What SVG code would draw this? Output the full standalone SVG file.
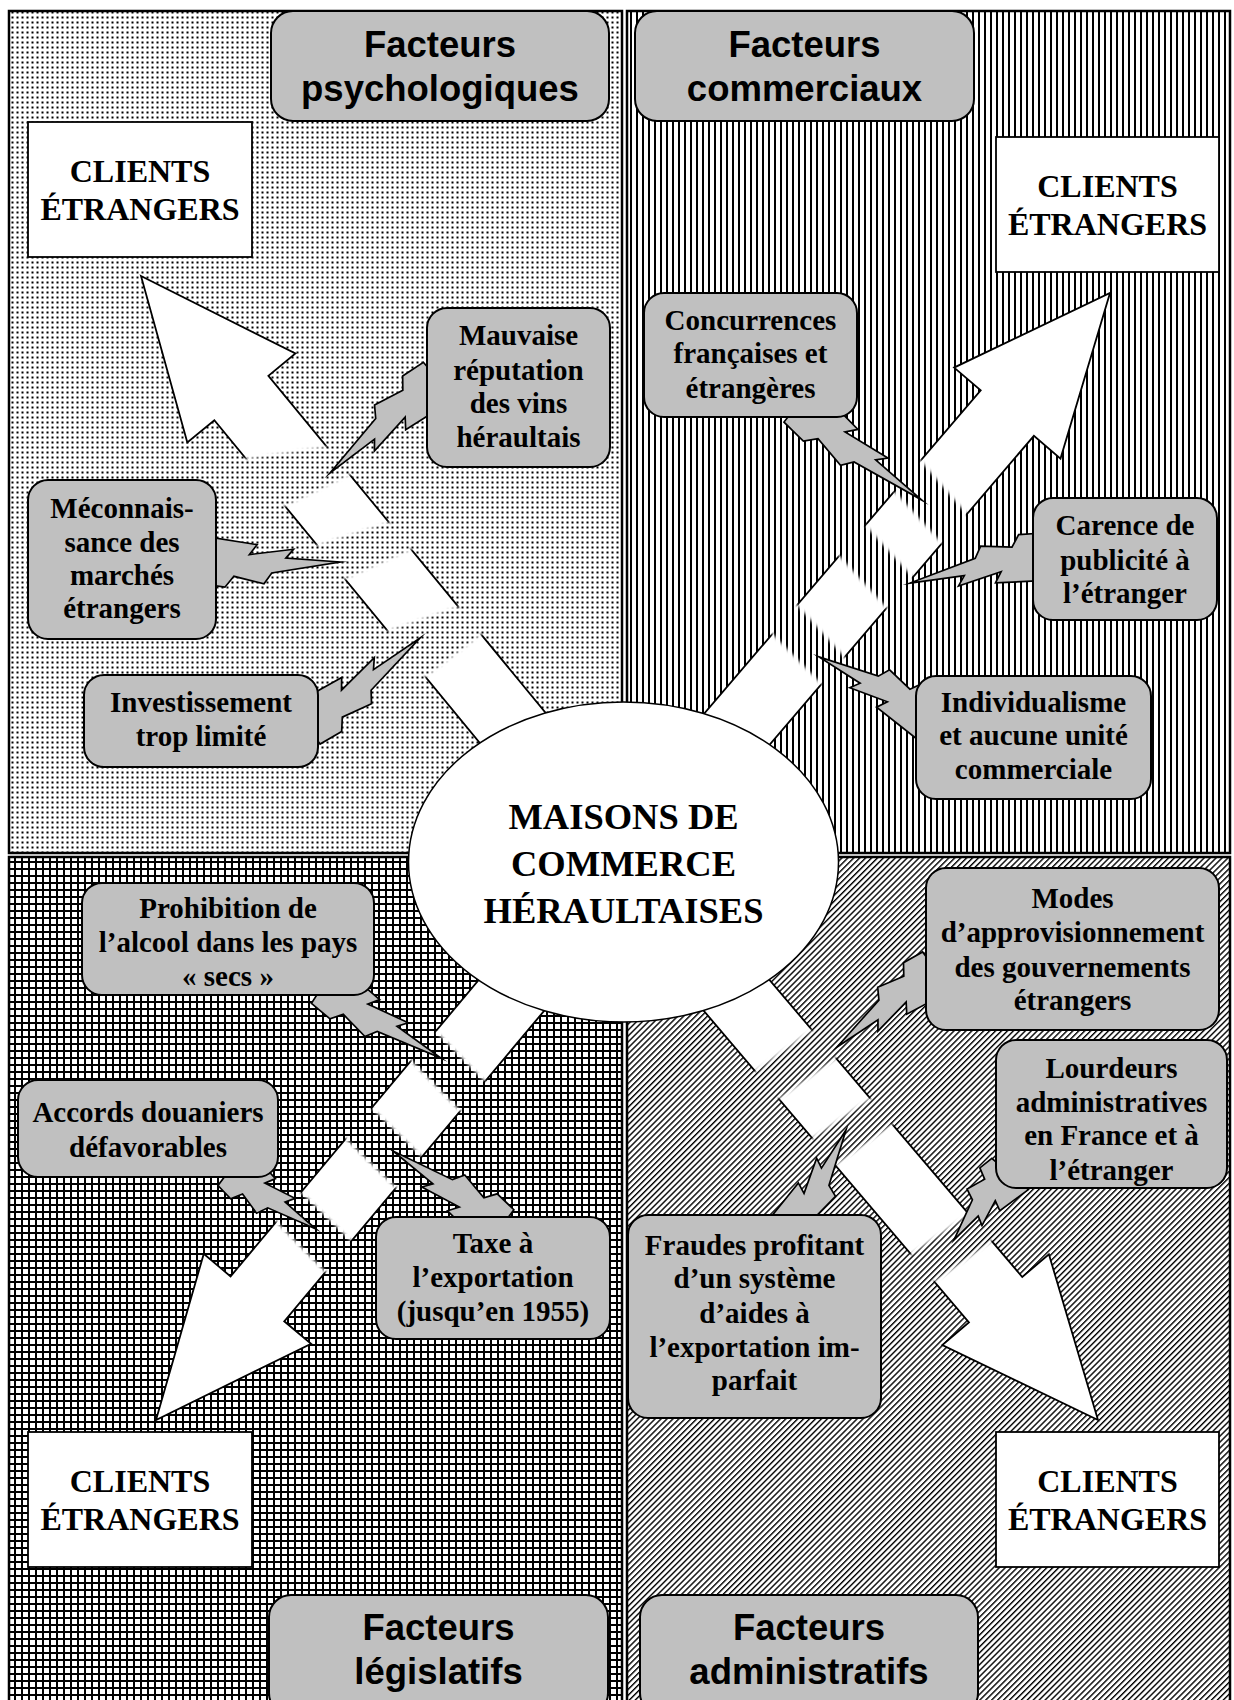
<svg xmlns="http://www.w3.org/2000/svg" xmlns:xlink="http://www.w3.org/1999/xlink" width="1234" height="1700" viewBox="0 0 1234 1700">
<style>
.quad{stroke:#000;stroke-width:2.5}
.arrow{fill:#fff;stroke:#000;stroke-width:1.8;stroke-linejoin:miter}
.bolt{fill:#c0c0c0;stroke:#000;stroke-width:1.7;vector-effect:non-scaling-stroke;stroke-linejoin:miter;stroke-miterlimit:10}
.box{fill:#c0c0c0;stroke:#000;stroke-width:2}
.client{fill:#fff;stroke:#000;stroke-width:1.8}
.center{fill:#fff;stroke:#000;stroke-width:1.5}
.title{font-family:"Liberation Sans",Arial,sans-serif;font-weight:bold;font-size:36.5px;text-anchor:middle;fill:#000}
.ft{font-family:"Liberation Serif","Times New Roman",serif;font-weight:bold;font-size:29px;text-anchor:middle;fill:#000}
.ct{font-family:"Liberation Serif","Times New Roman",serif;font-weight:bold;font-size:32px;text-anchor:middle;fill:#000}
.mt{font-family:"Liberation Serif","Times New Roman",serif;font-weight:bold;font-size:36.5px;text-anchor:middle;fill:#000}
</style>
<defs>
<pattern id="pDots" patternUnits="userSpaceOnUse" width="5" height="5"><rect width="5" height="5" fill="#fff"/><rect x="1.5" y="1.5" width="2" height="2" fill="#000"/></pattern>
<pattern id="pVert" patternUnits="userSpaceOnUse" width="6" height="6"><rect width="6" height="6" fill="#fff"/><rect width="2" height="6" fill="#000"/></pattern>
<pattern id="pGrid" patternUnits="userSpaceOnUse" width="7" height="7"><rect width="7" height="7" fill="#fff"/><rect width="7" height="2" fill="#000"/><rect width="2" height="7" fill="#000"/></pattern>
<pattern id="pDiag" patternUnits="userSpaceOnUse" width="4.2" height="10" patternTransform="rotate(45)"><rect width="4.2" height="10" fill="#fff"/><rect width="1.4" height="10" fill="#000"/></pattern>
<filter id="soft" x="-20%" y="-20%" width="140%" height="140%"><feGaussianBlur stdDeviation="1.5"/></filter>
<polygon id="bolt" class="bolt" points="-10,-24 34,-16 28,-6 63,-12 57,-3 100,0 46,12 40,23 16,16 9,27 -10,24"/>
<mask id="mTL" maskUnits="userSpaceOnUse" x="-50" y="-150" width="900" height="300"><rect x="-50" y="-150" width="900" height="300" fill="#fff"/><g filter="url(#soft)"><polygon points="253,-40 287,-40 268,40 205,40"/><polygon points="350,-40 384,-40 362,40 318,40"/><polygon points="459,-40 493,-40 490,40 429,40"/></g></mask>
<mask id="mTR" maskUnits="userSpaceOnUse" x="-50" y="-150" width="900" height="300"><rect x="-50" y="-150" width="900" height="300" fill="#fff"/><g filter="url(#soft)"><polygon points="262,-40 300,-40 290,40 250,40"/><polygon points="345,-40 385,-40 375,40 335,40"/><polygon points="450,-40 485,-40 478,40 440,40"/></g></mask>
<mask id="mBL" maskUnits="userSpaceOnUse" x="-50" y="-150" width="900" height="300"><rect x="-50" y="-150" width="900" height="300" fill="#fff"/><g filter="url(#soft)"><polygon points="230,-40 268,-40 262,40 222,40"/><polygon points="338,-40 378,-40 372,40 332,40"/><polygon points="440,-40 478,-40 470,40 432,40"/></g></mask>
<mask id="mBR" maskUnits="userSpaceOnUse" x="-50" y="-150" width="900" height="300"><rect x="-50" y="-150" width="900" height="300" fill="#fff"/><g filter="url(#soft)"><polygon points="212,-40 248,-40 240,40 205,40"/><polygon points="365,-40 400,-40 392,40 358,40"/><polygon points="452,-40 488,-40 482,40 445,40"/></g></mask>
<clipPath id="clipLourd"><rect x="996" y="1040" width="231" height="146" rx="20"/></clipPath>
</defs>

<g id="background">
<rect class="quad" x="9" y="11" width="613" height="842" fill="url(#pDots)"/>
<rect class="quad" x="627" y="11" width="603" height="842" fill="url(#pVert)"/>
<rect class="quad" x="9" y="857" width="613" height="850" fill="url(#pGrid)"/>
<rect class="quad" x="627" y="857" width="603" height="850" fill="url(#pDiag)"/>
</g>

<g id="connectors">
<g id="arrow-tl" transform="translate(141,276) rotate(50.56)"><g mask="url(#mTL)"><polygon class="arrow" points="0,0 158,-70 158,-35 759,-35 759,35 158,35 158,70"/></g></g>
<g id="arrow-tr" transform="translate(1110,293) rotate(130.54)"><g mask="url(#mTR)"><polygon class="arrow" points="0,0 158,-70 158,-35 749,-35 749,35 158,35 158,70"/></g></g>
<g id="arrow-bl" transform="translate(156,1420) rotate(-50.07)"><g mask="url(#mBL)"><polygon class="arrow" points="0,0 158,-70 158,-35 728,-35 728,35 158,35 158,70"/></g></g>
<g id="arrow-br" transform="translate(1098,1420) rotate(-130.4)"><g mask="url(#mBR)"><polygon class="arrow" points="0,0 158,-70 158,-35 733,-35 733,35 158,35 158,70"/></g></g>
<use href="#bolt" transform="translate(429,389) rotate(139.7) scale(1.298,1)"/>
<use href="#bolt" transform="translate(214,560) rotate(0.9) scale(1.26,1)"/>
<use href="#bolt" transform="translate(316,717) rotate(-37.2) scale(1.306,1)"/>
<use href="#bolt" transform="translate(810,412) rotate(38.2) scale(1.424,1)"/>
<use href="#bolt" transform="translate(1035,559) rotate(169.1) scale(1.273,1)"/>
<use href="#bolt" transform="translate(918,712) rotate(-150.9) scale(1.133,1)"/>
<use href="#bolt" transform="translate(335,990) rotate(32.7) scale(1.259,1)"/>
<use href="#bolt" transform="translate(240,1172) rotate(36.9) scale(0.95,1)"/>
<use href="#bolt" transform="translate(490,1222) rotate(-143.8) scale(1.202,1)"/>
<use href="#bolt" transform="translate(928,978) rotate(142.8) scale(1.142,1)"/>
<use href="#bolt" transform="translate(1005,1180) rotate(130.4) scale(0.787,1)"/>
<use href="#bolt" transform="translate(795,1222) rotate(-61) scale(1.052,1)"/>
</g>

<g id="maisons">
<ellipse class="center" cx="623.5" cy="862" rx="215" ry="160"/>
<text class="mt" x="623.5" y="829">MAISONS DE</text>
<text class="mt" x="623.5" y="876">COMMERCE</text>
<text class="mt" x="623.5" y="923">HÉRAULTAISES</text>
</g>

<g id="f-mauvaise"><rect class="box" x="427" y="308" width="183" height="159" rx="20"/>
<text class="ft" x="518.5" y="345">Mauvaise</text><text class="ft" x="518.5" y="380">réputation</text><text class="ft" x="518.5" y="413">des vins</text><text class="ft" x="518.5" y="447">héraultais</text></g>
<g id="f-meconnaissance"><rect class="box" x="28" y="480" width="188" height="159" rx="20"/>
<text class="ft" x="122" y="518">Méconnais-</text><text class="ft" x="122" y="552">sance des</text><text class="ft" x="122" y="585">marchés</text><text class="ft" x="122" y="618">étrangers</text></g>
<g id="f-investissement"><rect class="box" x="84" y="675" width="234" height="92" rx="20"/>
<text class="ft" x="201" y="712">Investissement</text><text class="ft" x="201" y="746">trop limité</text></g>
<g id="f-concurrences"><rect class="box" x="644" y="293" width="213" height="124" rx="20"/>
<text class="ft" x="750.5" y="330">Concurrences</text><text class="ft" x="750.5" y="363">françaises et</text><text class="ft" x="750.5" y="398">étrangères</text></g>
<g id="f-carence"><rect class="box" x="1033" y="498" width="184" height="122" rx="20"/>
<text class="ft" x="1125" y="535">Carence de</text><text class="ft" x="1125" y="570">publicité à</text><text class="ft" x="1125" y="603">l’étranger</text></g>
<g id="f-individualisme"><rect class="box" x="916" y="676" width="235" height="123" rx="20"/>
<text class="ft" x="1033.5" y="712">Individualisme</text><text class="ft" x="1033.5" y="745">et aucune unité</text><text class="ft" x="1033.5" y="779">commerciale</text></g>
<g id="f-prohibition"><rect class="box" x="82" y="883" width="292" height="112" rx="20"/>
<text class="ft" x="228" y="918">Prohibition de</text><text class="ft" x="228" y="952">l’alcool dans les pays</text><text class="ft" x="228" y="986">« secs »</text></g>
<g id="f-accords"><rect class="box" x="18" y="1080" width="260" height="97" rx="20"/>
<text class="ft" x="148" y="1122">Accords douaniers</text><text class="ft" x="148" y="1157">défavorables</text></g>
<g id="f-taxe"><rect class="box" x="376" y="1217" width="234" height="122" rx="20"/>
<text class="ft" x="493" y="1253">Taxe à</text><text class="ft" x="493" y="1287">l’exportation</text><text class="ft" x="493" y="1321">(jusqu’en 1955)</text></g>
<g id="f-modes"><rect class="box" x="926" y="868" width="293" height="162" rx="20"/>
<text class="ft" x="1072.5" y="908">Modes</text><text class="ft" x="1072.5" y="942">d’approvisionnement</text><text class="ft" x="1072.5" y="977">des gouvernements</text><text class="ft" x="1072.5" y="1010">étrangers</text></g>
<g id="f-lourdeurs"><rect class="box" x="996" y="1040" width="231" height="148" rx="20"/>
<g clip-path="url(#clipLourd)"><text class="ft" x="1111.5" y="1078">Lourdeurs</text><text class="ft" x="1111.5" y="1112">administratives</text><text class="ft" x="1111.5" y="1145">en France et à</text><text class="ft" x="1111.5" y="1180">l’étranger</text></g></g>
<g id="f-fraudes"><rect class="box" x="628" y="1215" width="253" height="203" rx="20"/>
<text class="ft" x="754.5" y="1255">Fraudes profitant</text><text class="ft" x="754.5" y="1288">d’un système</text><text class="ft" x="754.5" y="1323">d’aides à</text><text class="ft" x="754.5" y="1357">l’exportation im-</text><text class="ft" x="754.5" y="1390">parfait</text></g>

<g id="t-psycho"><rect class="box" x="271" y="11" width="338" height="110" rx="22"/>
<text class="title" x="440" y="57">Facteurs</text><text class="title" x="440" y="101">psychologiques</text></g>
<g id="t-commerciaux"><rect class="box" x="635" y="11" width="339" height="110" rx="22"/>
<text class="title" x="804.5" y="57">Facteurs</text><text class="title" x="804.5" y="101">commerciaux</text></g>
<g id="t-legislatifs"><rect class="box" x="269" y="1595" width="339" height="120" rx="22"/>
<text class="title" x="438.5" y="1640">Facteurs</text><text class="title" x="438.5" y="1684">législatifs</text></g>
<g id="t-administratifs"><rect class="box" x="640" y="1595" width="338" height="120" rx="22"/>
<text class="title" x="809" y="1640">Facteurs</text><text class="title" x="809" y="1684">administratifs</text></g>

<g id="clients-tl"><rect class="client" x="28" y="122" width="224" height="135"/>
<text class="ct" x="140" y="182">CLIENTS</text><text class="ct" x="140" y="220">ÉTRANGERS</text></g>
<g id="clients-tr"><rect class="client" x="996" y="137" width="223" height="135"/>
<text class="ct" x="1107.5" y="197">CLIENTS</text><text class="ct" x="1107.5" y="235">ÉTRANGERS</text></g>
<g id="clients-bl"><rect class="client" x="28" y="1432" width="224" height="135"/>
<text class="ct" x="140" y="1492">CLIENTS</text><text class="ct" x="140" y="1530">ÉTRANGERS</text></g>
<g id="clients-br"><rect class="client" x="996" y="1432" width="223" height="135"/>
<text class="ct" x="1107.5" y="1492">CLIENTS</text><text class="ct" x="1107.5" y="1530">ÉTRANGERS</text></g>
</svg>
